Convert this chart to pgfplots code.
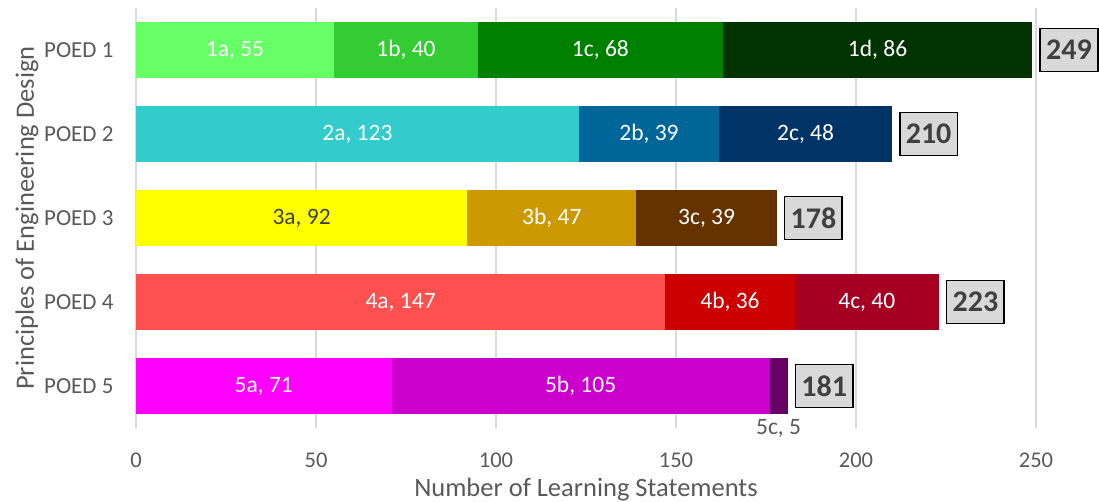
\documentclass[border=0pt]{standalone}
\usepackage{pgfplots}
\pgfplotsset{compat=1.18}
\usepackage{fontspec}
\setmainfont{Carlito}
\definecolor{c1a}{HTML}{66FF66}
\definecolor{c1b}{HTML}{33CC33}
\definecolor{c1c}{HTML}{008000}
\definecolor{c1d}{HTML}{003300}
\definecolor{c2a}{HTML}{33CCCC}
\definecolor{c2b}{HTML}{006699}
\definecolor{c2c}{HTML}{003366}
\definecolor{c3a}{HTML}{FFFF00}
\definecolor{c3b}{HTML}{CC9900}
\definecolor{c3c}{HTML}{663300}
\definecolor{c4a}{HTML}{FF5050}
\definecolor{c4b}{HTML}{CC0000}
\definecolor{c4c}{HTML}{A50021}
\definecolor{c5a}{HTML}{FF00FF}
\definecolor{c5b}{HTML}{CC00CC}
\definecolor{c5c}{HTML}{660066}
\definecolor{gridgray}{HTML}{D9D9D9}
\definecolor{boxgray}{HTML}{D9D9D9}
\definecolor{txtgray}{HTML}{595959}
\definecolor{txtdark}{HTML}{404040}
\pgfplotsset{
  commonaxis/.style={
    at={(0pt,0pt)}, anchor=south west,
    scale only axis, width=900pt, height=420pt,
    xmin=0, xmax=250, ymin=0.5, ymax=5.5, y dir=reverse,
    clip=false,
  },
  labelplot/.style={sharp plot, draw=none, mark=none,
    nodes near coords, point meta=explicit symbolic,
    nodes near coords align={anchor=center}},
}
\begin{document}
\begin{tikzpicture}
\path[use as bounding box] (-136pt,-74pt) rectangle (963pt,428pt);
\begin{axis}[
  commonaxis,
  xbar stacked, bar width=56pt,
  axis line style={draw=none}, tick style={draw=none},
  xmajorgrids, major grid style={draw=gridgray, line width=1.6pt},
  xtick={0,50,100,150,200,250},
  ytick={1,2,3,4,5},
  yticklabels={POED 1,POED 2,POED 3,POED 4,POED 5},
  /pgf/number format/assume math mode=true,
  xticklabel style={font=\fontsize{22.5}{27}\selectfont, text=txtgray, yshift=-21pt},
  yticklabel style={font=\fontsize{23}{27}\selectfont, text=txtgray, xshift=-19pt},
  xlabel={Number of Learning Statements},
  ylabel={Principles of Engineering Design},
  xlabel style={at={(axis description cs:0.5,0)}, anchor=center, yshift=-62pt, font=\fontsize{26.5}{31}\selectfont, text=txtgray},
  ylabel style={at={([xshift=-109pt]axis description cs:0,0.5)}, anchor=center, font=\fontsize{26.5}{31}\selectfont, text=txtgray},
]
% POED 1
\addplot[fill=c1a, draw=none] coordinates {(55,1) (0,2) (0,3) (0,4) (0,5)};
\addplot[fill=c1b, draw=none] coordinates {(40,1) (0,2) (0,3) (0,4) (0,5)};
\addplot[fill=c1c, draw=none] coordinates {(68,1) (0,2) (0,3) (0,4) (0,5)};
\addplot[fill=c1d, draw=none] coordinates {(86,1) (0,2) (0,3) (0,4) (0,5)};
% POED 2
\addplot[fill=c2a, draw=none] coordinates {(0,1) (123,2) (0,3) (0,4) (0,5)};
\addplot[fill=c2b, draw=none] coordinates {(0,1) (39,2) (0,3) (0,4) (0,5)};
\addplot[fill=c2c, draw=none] coordinates {(0,1) (48,2) (0,3) (0,4) (0,5)};
% POED 3
\addplot[fill=c3a, draw=none] coordinates {(0,1) (0,2) (92,3) (0,4) (0,5)};
\addplot[fill=c3b, draw=none] coordinates {(0,1) (0,2) (47,3) (0,4) (0,5)};
\addplot[fill=c3c, draw=none] coordinates {(0,1) (0,2) (39,3) (0,4) (0,5)};
% POED 4
\addplot[fill=c4a, draw=none] coordinates {(0,1) (0,2) (0,3) (147,4) (0,5)};
\addplot[fill=c4b, draw=none] coordinates {(0,1) (0,2) (0,3) (36,4) (0,5)};
\addplot[fill=c4c, draw=none] coordinates {(0,1) (0,2) (0,3) (40,4) (0,5)};
% POED 5
\addplot[fill=c5a, draw=none] coordinates {(0,1) (0,2) (0,3) (0,4) (71,5)};
\addplot[fill=c5b, draw=none] coordinates {(0,1) (0,2) (0,3) (0,4) (105,5)};
\addplot[fill=c5c, draw=none] coordinates {(0,1) (0,2) (0,3) (0,4) (5,5)};
\end{axis}
\begin{axis}[commonaxis, hide axis]
% segment labels (white)
\addplot[labelplot,
  every node near coord/.style={text=white, font=\fontsize{23.5}{28}\selectfont, anchor=center}]
  coordinates {(27.5,1)[1a, 55] (75,1)[1b, 40] (129,1)[1c, 68] (206,1)[1d, 86]
  (61.5,2)[2a, 123] (142.5,2)[2b, 39] (186,2)[2c, 48]
  (115.5,3)[3b, 47] (158.5,3)[3c, 39]
  (73.5,4)[4a, 147] (165,4)[4b, 36] (203,4)[4c, 40]
  (35.5,5)[5a, 71] (123.5,5)[5b, 105]};
% segment labels (dark)
\addplot[labelplot,
  every node near coord/.style={text=txtdark, font=\fontsize{23.5}{28}\selectfont, anchor=center}]
  coordinates {(46,3)[3a, 92]};
% small segment label below bar
\addplot[labelplot,
  every node near coord/.style={text=txtgray, font=\fontsize{23.5}{28}\selectfont, anchor=center, yshift=-42pt}]
  coordinates {(178.5,5)[5c, 5]};
% totals
\addplot[labelplot, nodes near coords align={anchor=west},
  every node near coord/.style={anchor=west, xshift=7pt, fill=boxgray, draw=black, line width=1.6pt,
    text=txtdark, font=\fontsize{30}{34}\selectfont\bfseries, minimum height=43pt, inner xsep=6pt}]
  coordinates {(249,1)[249] (210,2)[210] (178,3)[178] (223,4)[223] (181,5)[181]};
\end{axis}
\end{tikzpicture}
\end{document}
